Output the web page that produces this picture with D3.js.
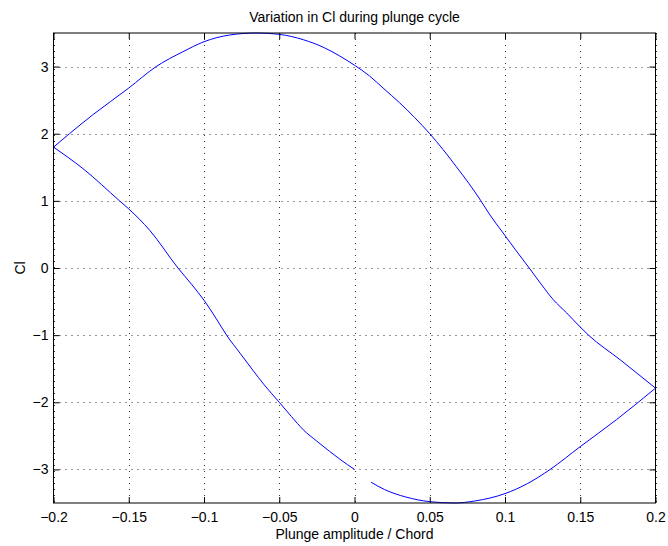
<!DOCTYPE html>
<html lang="en">
<head>
    <meta charset="UTF-8">
    <title>Variation in Cl during plunge cycle</title>
    <script src="https://cdn.jsdelivr.net/npm/d3@7"></script>
    <style>
        body{
            margin: 0;
            background: #fff;
        }
        text{
            font-family: "Liberation Sans", Arial, Helvetica, sans-serif;
            font-size: 14px;
            fill: #000;
        }
    </style>
</head>
<body>
</body>
<script type="text/javascript">

    // plunge amplitude / chord (h) and Cl
    // lower branch, right half (starts just after h = 0)
    let lowerRightH  = [0.011, 0.02, 0.034, 0.05, 0.0665, 0.08, 0.1, 0.115, 0.13, 0.15, 0.174, 0.2];
    let lowerRightCl = [-3.19, -3.30, -3.41, -3.48, -3.50, -3.47, -3.36, -3.21, -3.00, -2.66, -2.26, -1.79];

    // upper branch, from h = 0.2 back to h = -0.2
    let upperH  = [0.2, 0.1767, 0.1555, 0.15, 0.141, 0.132, 0.124, 0.1161, 0.107, 0.0978, 0.09, 0.084, 0.076, 0.0676, 0.059, 0.05,
                   0.04, 0.03, 0.019, 0.01, 0, -0.01, -0.02, -0.034, -0.05, -0.065, -0.083, -0.1, -0.1141, -0.1318, -0.15, -0.174, -0.1894, -0.2];
    let upperCl = [-1.79, -1.37, -1.0, -0.88, -0.67, -0.47, -0.24, 0.0, 0.27, 0.55, 0.79, 1.0, 1.26, 1.51, 1.76, 2.0,
                   2.24, 2.46, 2.68, 2.86, 3.02, 3.16, 3.28, 3.40, 3.48, 3.50, 3.47, 3.37, 3.22, 3.0, 2.68, 2.28, 2.0, 1.80];

    // lower branch, left half, from h = -0.2 to h = 0
    let lowerLeftH  = [-0.2, -0.1804, -0.1561, -0.15, -0.136, -0.1173, -0.108, -0.1, -0.092, -0.085, -0.076, -0.0676, -0.06, -0.05,
                       -0.042, -0.034, -0.025, -0.0166, -0.009, 0];
    let lowerLeftCl = [1.80, 1.48, 1.0, 0.88, 0.56, 0.0, -0.25, -0.48, -0.75, -1.0, -1.27, -1.52, -1.74, -2.0,
                       -2.21, -2.41, -2.58, -2.73, -2.86, -3.0];

    let xTicks = [-0.2, -0.15, -0.1, -0.05, 0, 0.05, 0.1, 0.15, 0.2];
    let xTickLabels = ["\u22120.2", "\u22120.15", "\u22120.1", "\u22120.05", "0", "0.05", "0.1", "0.15", "0.2"];
    let yTicks = [-3, -2, -1, 0, 1, 2, 3];
    let yTickLabels = ["\u22123", "\u22122", "\u22121", "0", "1", "2", "3"];

    let width = 668;
    let height = 546;
    let plotLeft = 53.5, plotRight = 655.5, plotTop = 33, plotBottom = 503;

    let svg = d3.select("body")
        .append("svg")
        .attr("width", width)
        .attr("height", height);

    let x = d3.scaleLinear()
        .domain([-0.2, 0.2])
        .range([plotLeft, plotRight]);
    let y = d3.scaleLinear()
        .domain([-3.5, 3.5])
        .range([plotBottom, plotTop]);

    // grid
    let grid = svg.append("g")
        .attr("stroke", "#333")
        .attr("stroke-width", 1)
        .attr("stroke-dasharray", "1,5");
    grid.selectAll(".gx")
        .data(xTicks)
        .enter()
        .append("line")
        .attr("x1", d => Math.round(x(d)) + 0.5)
        .attr("x2", d => Math.round(x(d)) + 0.5)
        .attr("y1", plotTop)
        .attr("y2", plotBottom);
    grid.selectAll(".gy")
        .data(yTicks)
        .enter()
        .append("line")
        .attr("x1", plotLeft)
        .attr("x2", plotRight)
        .attr("y1", d => Math.round(y(d)) + 0.5)
        .attr("y2", d => Math.round(y(d)) + 0.5);

    // one series, drawn as three smooth pieces so the turning points stay sharp
    let pieces = [
        lowerRightH.map((h, i) => ({ h: h, cl: lowerRightCl[i] })),
        upperH.map((h, i) => ({ h: h, cl: upperCl[i] })),
        lowerLeftH.map((h, i) => ({ h: h, cl: lowerLeftCl[i] }))
    ];

    let line = d3.line()
        .x(d => x(d.h))
        .y(d => y(d.cl))
        .curve(d3.curveMonotoneX);
    svg.append("g")
        .selectAll("path")
        .data(pieces)
        .enter()
        .append("path")
        .attr("fill", "none")
        .attr("stroke", "#0000ff")
        .attr("stroke-width", 1)
        .attr("d", line);

    // axes with inward ticks on all four sides
    let xAxis = d3.axisBottom(x)
        .tickValues(xTicks)
        .tickFormat((d, i) => xTickLabels[i])
        .tickSize(-6)
        .tickPadding(9);
    let xAxisGroup = svg.append("g")
        .attr("transform", `translate(0,${plotBottom})`);
    xAxis(xAxisGroup);

    let xAxisTop = d3.axisTop(x)
        .tickValues(xTicks)
        .tickFormat("")
        .tickSize(-6);
    let xAxisTopGroup = svg.append("g")
        .attr("transform", `translate(0,${plotTop})`);
    xAxisTop(xAxisTopGroup);

    let yAxis = d3.axisLeft(y)
        .tickValues(yTicks)
        .tickFormat((d, i) => yTickLabels[i])
        .tickSize(-6)
        .tickPadding(5);
    let yAxisGroup = svg.append("g")
        .attr("transform", `translate(${plotLeft},0)`);
    yAxis(yAxisGroup);

    let yAxisRight = d3.axisRight(y)
        .tickValues(yTicks)
        .tickFormat("")
        .tickSize(-6);
    let yAxisRightGroup = svg.append("g")
        .attr("transform", `translate(${plotRight},0)`);
    yAxisRight(yAxisRightGroup);

    svg.selectAll(".domain").remove();
    svg.selectAll("g").attr("font-family", null).attr("font-size", null);

    // box
    svg.append("rect")
        .attr("x", plotLeft)
        .attr("y", plotTop)
        .attr("width", plotRight - plotLeft)
        .attr("height", plotBottom - plotTop)
        .attr("fill", "none")
        .attr("stroke", "#000")
        .attr("stroke-width", 1);

    // titles
    svg.append("text")
        .attr("x", x(0))
        .attr("y", 22)
        .attr("text-anchor", "middle")
        .text("Variation in Cl during plunge cycle");
    svg.append("text")
        .attr("x", x(0))
        .attr("y", 539)
        .attr("text-anchor", "middle")
        .text("Plunge amplitude / Chord");
    svg.append("text")
        .attr("transform", `translate(25,${y(0)}) rotate(-90)`)
        .attr("text-anchor", "middle")
        .text("Cl");
</script>
</html>
